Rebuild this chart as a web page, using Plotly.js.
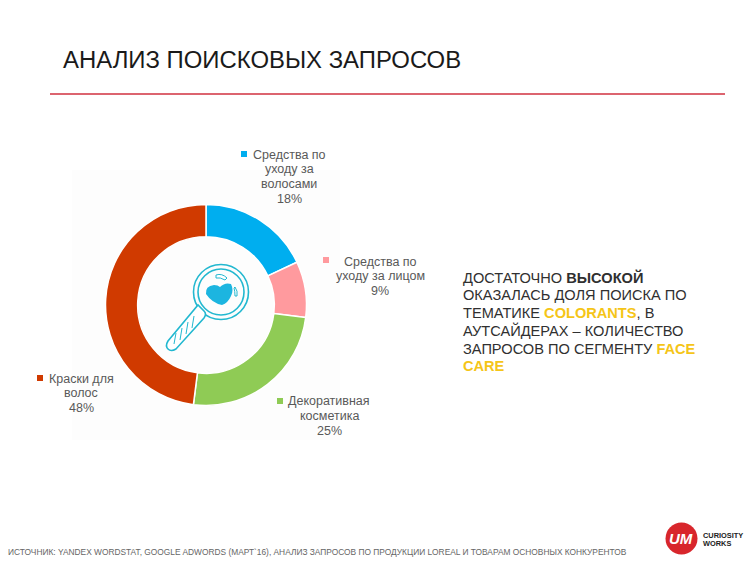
<!DOCTYPE html>
<html><head><meta charset="utf-8">
<script src="https://cdn.plot.ly/plotly-3.0.1.min.js"></script>
<style>html,body{margin:0;padding:0;background:#fff}#c{width:750px;height:562px}</style></head>
<body><div id="c"></div>
<script>
const categories = ['Средства по уходу за волосами','Средства по уходу за лицом','Декоративная косметика','Краски для волос'];
const shares = [18, 9, 25, 48];
const sliceColors = ['#00AEEF','#FF9A9E','#8FCB55','#D03A00'];
const titleText = 'АНАЛИЗ ПОИСКОВЫХ ЗАПРОСОВ';
const noteLines = [
 'ДОСТАТОЧНО <b>ВЫСОКОЙ</b>',
 'ОКАЗАЛАСЬ ДОЛЯ ПОИСКА ПО',
 'ТЕМАТИКЕ <b><span style="color:#F5C518">COLORANTS</span></b>, В',
 'АУТСАЙДЕРАХ – КОЛИЧЕСТВО',
 'ЗАПРОСОВ ПО СЕГМЕНТУ <b><span style="color:#F5C518">FACE</span></b>',
 '<b><span style="color:#F5C518">CARE</span></b>'];
const sourceText = 'ИСТОЧНИК: YANDEX WORDSTAT, GOOGLE ADWORDS (МАРТ`16), АНАЛИЗ ЗАПРОСОВ ПО ПРОДУКЦИИ LOREAL И ТОВАРАМ ОСНОВНЫХ КОНКУРЕНТОВ';

const W=750,H=562,F='"Liberation Sans",Arial,sans-serif';
const px=x=>x/W, py=y=>1-y/H;
const txt=(x,y,text,size,color,anchor)=>({xref:'paper',yref:'paper',x:px(x),y:py(y),text,showarrow:false,
  xanchor:anchor||'left',yanchor:'middle',align:anchor||'left',font:{family:F,size,color},borderpad:0,borderwidth:0});
const lab=(cx,y0,lines)=>lines.map((t,i)=>txt(cx,y0+i*(lines.length===3&&cx>340?14.5:14.9),t,12.5,'#595959','center'));
const annotations=[
  txt(63,60,titleText,23.9,'#1a1a1a'),
  ...noteLines.map((t,i)=>txt(463,277.5+i*17.75,t,14.6,'#303030')),
  ...lab(289,154.5,['Средства по','уходу за','волосами','18%']),
  ...lab(380,261.5,['Средства по','уходу за лицом','9%']),
  ...lab(329,401,['Декоративная','косметика','25%']),
  ...lab(81,378.5,['Краски для','волос','48%']),
  txt(8,552,sourceText,8.37,'#666666'),
  txt(681,538.5,'<b><i>UM</i></b>',15,'#ffffff','center'),
  txt(703,535.5,'<b>CURIOSITY</b>',7.4,'#222222'),
  txt(703,543,'<b>WORKS</b>',7.4,'#222222')
];
const pathOf=(cmds)=>cmds.map(c=>c[0]+(c.length>1?' '+c.slice(1).map((v,i)=>i%2?py(v):px(v)).join(' '):'')).join(' ');
const P=(cmds,o)=>Object.assign({type:'path',xref:'paper',yref:'paper',path:pathOf(cmds)},o);
const circ=(cx,cy,r,o)=>Object.assign({type:'circle',xref:'paper',yref:'paper',x0:px(cx-r),x1:px(cx+r),y0:py(cy+r),y1:py(cy-r)},o);
const sq=(x,y,s,c)=>({type:'rect',xref:'paper',yref:'paper',x0:px(x),x1:px(x+s),y0:py(y+s),y1:py(y),fillcolor:c,line:{width:0}});
const teal='#22B8D0', tl=w=>({color:teal,width:w});
const shapes=[
  {type:'rect',xref:'paper',yref:'paper',layer:'below',x0:px(72),x1:px(340),y0:py(440),y1:py(170),fillcolor:'#FDFDFD',line:{width:0}},
  {type:'line',xref:'paper',yref:'paper',x0:px(50),x1:px(725),y0:py(94),y1:py(94),line:{color:'#D0313F',width:1.5}},
  sq(241,151,6,sliceColors[0]), sq(323,257,6,sliceColors[1]), sq(277,398,6,sliceColors[2]), sq(37,375,6,sliceColors[3]),
  circ(221,292,27.5,{line:tl(1.6),fillcolor:'rgba(0,0,0,0)'}),
  circ(221,292,23,{line:tl(1.6),fillcolor:'rgba(0,0,0,0)'}),
  P([['M',204,311],['L',198,305],['L',168,341],['Q',165,346,168,349],['Q',171,352,176,349],['L',204,318],['Q',207,314,204,311],['Z']],{line:tl(1.6),fillcolor:'#fff'}),
  P([['M',176,333],['L',174,344]],{line:tl(1)}), P([['M',182,328],['L',180,340]],{line:tl(1)}),
  P([['M',188,322],['L',186,334]],{line:tl(1)}), P([['M',194,316],['L',192,328]],{line:tl(1)}),
  P([['M',206,294],['Q',205,286,214,285],['Q',218,285,220,287],['Q',225,282,231,284],['Q',234,290,231,296],['Q',228,303,222,305],['Q',212,303,206,294],['Z']],{line:{width:0},fillcolor:'#1CB5E0'}),
  P([['M',216,275],['Q',222,273,227,278],['L',225,280],['Q',220,277,216,278],['Z']],{line:tl(1),fillcolor:'#fff'}),
  P([['M',235,287],['Q',238,291,237,296],['L',235,296],['Q',235,291,234,288],['Z']],{line:tl(1),fillcolor:'#fff'}),
  circ(681.5,538.5,16,{fillcolor:'#D8262C',line:{width:0}})
];
const data=[{type:'pie',labels:categories,values:shares,sort:false,direction:'clockwise',rotation:0,hole:0.68,
  textinfo:'none',hoverinfo:'label+percent',showlegend:false,
  marker:{colors:sliceColors,line:{color:'#ffffff',width:1.5}},
  domain:{x:[px(105.5),px(306.5)],y:[py(405.5),py(204.5)]}}];
const layout={width:W,height:H,margin:{l:0,r:0,t:0,b:0},paper_bgcolor:'#fff',showlegend:false,annotations,shapes};
Plotly.newPlot('c',data,layout,{displayModeBar:false,staticPlot:true});
</script></body></html>
